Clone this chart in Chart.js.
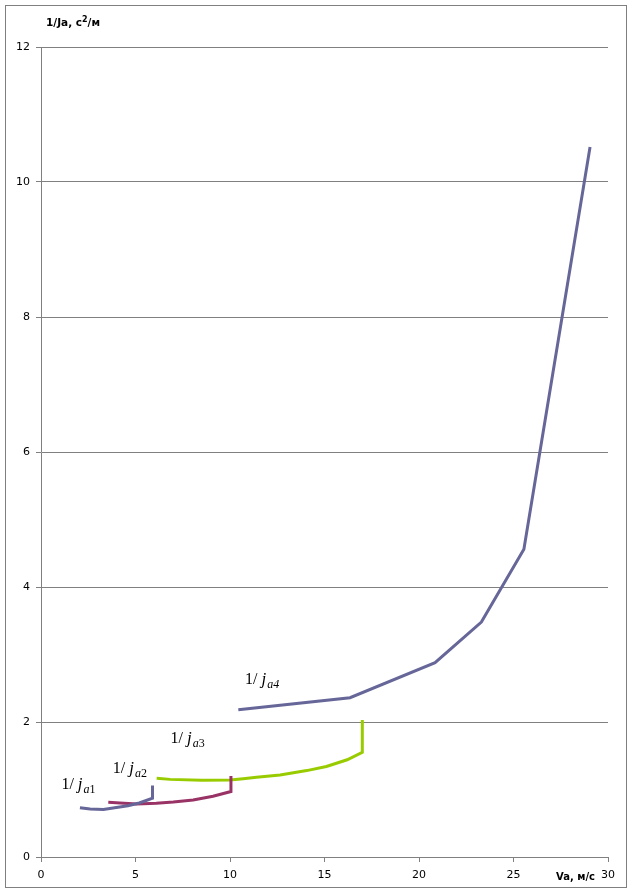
<!DOCTYPE html>
<html><head><meta charset="utf-8">
<script src="https://cdn.jsdelivr.net/npm/chart.js@4/dist/chart.umd.min.js"></script>
<style>html,body{margin:0;padding:0;background:#fff;}canvas{display:block;}</style>
</head><body>
<canvas id="c" width="632" height="894"></canvas>
<script>
// Data
const v1 = [2.06, 2.6, 3.3, 3.9, 4.6, 5.2, 5.9, 5.9];
const j1 = [0.73, 0.71, 0.705, 0.73, 0.76, 0.80, 0.87, 1.06];
const v2 = [3.56, 4.18, 5.06, 6.1, 7.0, 8.05, 9.1, 10.05, 10.05];
const j2 = [0.81, 0.80, 0.785, 0.795, 0.815, 0.845, 0.90, 0.97, 1.20];
const v3 = [6.12, 6.83, 8.5, 10.0, 10.7, 11.4, 12.65, 14.06, 15.1, 16.2, 17.0, 17.0];
const j3 = [1.166, 1.15, 1.136, 1.14, 1.16, 1.18, 1.215, 1.28, 1.34, 1.44, 1.55, 2.03];
const v4 = [10.44, 16.35, 20.85, 23.3, 25.55, 29.05];
const j4 = [2.18, 2.36, 2.88, 3.48, 4.56, 10.52];
const seriesNames = ['1', '2', '3', '4'];
const xTicks = [0, 5, 10, 15, 20, 25, 30];
const yTicks = [0, 2, 4, 6, 8, 10, 12];
const xTitle = 'Va, м/с';
const yTitleParts = ['1/Ja, с', '2', '/м'];

// label anchors (data coords) for curve captions
const labelAnchors = [
  {x: 1.08, y: 1.005},
  {x: 3.8, y: 1.245},
  {x: 6.85, y: 1.69},
  {x: 10.8, y: 2.56}
];

const toPts = (xs, ys) => xs.map((x, i) => ({x, y: ys[i]}));
const colors = ['#666699', '#993366', '#99CC00', '#666699'];
const series = [[v1, j1], [v2, j2], [v3, j3], [v4, j4]];

const datasets = series.map((s, i) => ({
  label: '1/ja' + seriesNames[i],
  data: toPts(s[0], s[1]),
  showLine: true,
  borderColor: colors[i],
  backgroundColor: colors[i],
  borderWidth: 3,
  pointRadius: 0,
  tension: 0,
  fill: false
}));

const overlay = {
  id: 'overlay',
  afterDraw(chart) {
    const ctx = chart.ctx;
    const xs = chart.scales.x, ys = chart.scales.y;
    ctx.save();
    // outer frame
    ctx.strokeStyle = '#808080';
    ctx.lineWidth = 1;
    ctx.strokeRect(5.5, 5.5, 621, 882);
    // axis titles
    ctx.fillStyle = '#000';
    ctx.textBaseline = 'alphabetic';
    ctx.textAlign = 'left';
    let tx = 46;
    const ty = 26;
    ctx.font = 'bold 10.5px "DejaVu Sans"';
    ctx.fillText(yTitleParts[0], tx, ty);
    tx += ctx.measureText(yTitleParts[0]).width;
    ctx.font = 'bold 8px "DejaVu Sans"';
    ctx.fillText(yTitleParts[1], tx, ty - 4);
    tx += ctx.measureText(yTitleParts[1]).width;
    ctx.font = 'bold 10.5px "DejaVu Sans"';
    ctx.fillText(yTitleParts[2], tx, ty);
    ctx.font = 'bold 10px "DejaVu Sans"';
    ctx.textAlign = 'right';
    ctx.fillText(xTitle, 595, 880);
    // curve captions
    ctx.textAlign = 'left';
    labelAnchors.forEach((a, i) => {
      let px = xs.getPixelForValue(a.x);
      const py = ys.getPixelForValue(a.y);
      ctx.font = '16px "Liberation Serif"';
      ctx.fillText('1/ ', px, py);
      px += ctx.measureText('1/ ').width;
      ctx.font = 'italic 17px "Liberation Serif"';
      ctx.fillText('j', px, py);
      px += ctx.measureText('j').width + 1;
      ctx.font = 'italic 12px "Liberation Serif"';
      ctx.fillText('a', px, py + 4);
      px += ctx.measureText('a').width;
      ctx.font = (i === 3 ? 'italic ' : '') + '12px "Liberation Serif"';
      ctx.fillText(seriesNames[i], px, py + 4);
    });
    ctx.restore();
  }
};

new Chart(document.getElementById('c'), {
  type: 'scatter',
  data: {datasets},
  options: {
    responsive: false,
    devicePixelRatio: 1,
    animation: false,
    layout: {padding: {top: 47, right: 24, left: 0, bottom: 0}},
    plugins: {legend: {display: false}, tooltip: {enabled: false}},
    scales: {
      x: {
        type: 'linear', min: 0, max: 30,
        afterFit: s => { s.height = 37; },
        afterBuildTicks: s => { s.ticks = xTicks.map(v => ({value: v})); },
        grid: {drawOnChartArea: false, tickLength: 5, color: '#808080', tickColor: '#808080'},
        border: {color: '#808080', width: 1},
        ticks: {color: '#000', font: {family: 'DejaVu Sans', size: 11}, padding: 7, maxRotation: 0}
      },
      y: {
        type: 'linear', min: 0, max: 12,
        afterFit: s => { s.width = 41; },
        afterBuildTicks: s => { s.ticks = yTicks.map(v => ({value: v})); },
        grid: {drawOnChartArea: true, tickLength: 5, color: '#808080', tickColor: '#808080'},
        border: {color: '#808080', width: 1},
        ticks: {color: '#000', font: {family: 'DejaVu Sans', size: 11}, padding: 6}
      }
    }
  },
  plugins: [overlay]
});
</script>
</body></html>
